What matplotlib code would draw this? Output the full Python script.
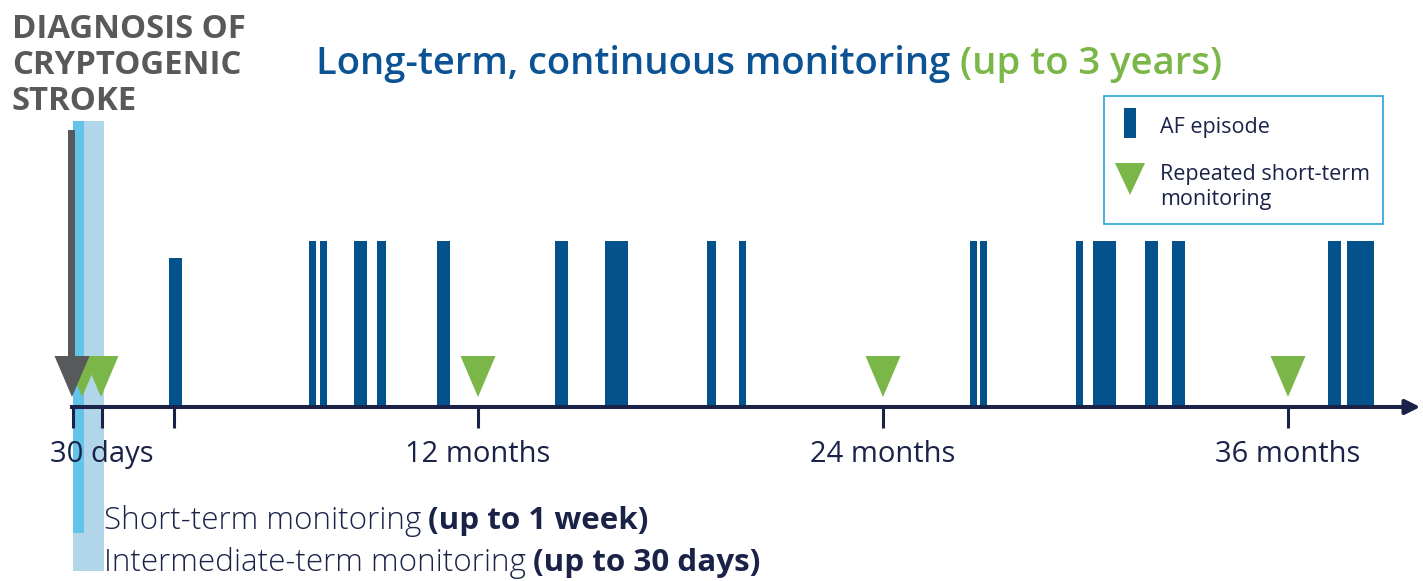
import matplotlib
matplotlib.use("agg")
import matplotlib.pyplot as plt
from matplotlib.patches import Rectangle, Polygon

# AF episodes, months after the stroke (start / end of each block)
af_start = [2.84, 6.99, 7.32, 8.33, 9.01, 10.79, 14.28, 15.76, 18.79, 19.73,
            26.58, 26.87, 29.72, 30.22, 31.76, 32.56, 37.19, 37.76]
af_end = [3.23, 7.20, 7.53, 8.71, 9.27, 11.17, 14.67, 16.44, 19.05, 19.94,
          26.79, 27.08, 29.93, 30.90, 32.15, 32.95, 37.57, 38.55]
af_height = [0.9, 1, 1, 1, 1, 1, 1, 1, 1, 1, 1, 1, 1, 1, 1, 1, 1, 1]

# repeated short-term monitoring (months)
rep_monitor = [0.27, 0.83, 12, 24, 36]

tick_pos = [0, 0.85, 3, 12, 24, 36]
tick_lab = ['', '30 days', '', '12 months', '24 months', '36 months']

short_term_end = 0.33   # up to 1 week
inter_term_end = 0.92   # up to 30 days

# colours
C_AF = '#03528c'
C_GREEN = '#7ab648'
C_GRAY = '#58595b'
C_SKY = '#63c3e9'
C_LIGHT = '#b1d6ea'
C_NAVY = '#1b2248'
C_TITLE = '#0b5394'

W, H = 1423, 581
PXM = 33.75      # pixels per month
X0 = 73          # pixel of month 0
AY = 407         # pixel row of time axis
UNIT = 166       # pixels per bar height unit

fig = plt.figure(figsize=(W / 100, H / 100), dpi=100)
ax = fig.add_axes([0, 0, 1, 1])
ax.set_xlim(-X0 / PXM, (W - X0) / PXM)
ax.set_ylim(-(H - AY) / UNIT, AY / UNIT)
for s in ['top', 'left', 'right']:
    ax.spines[s].set_visible(False)
ax.set_yticks([])

# monitoring bands
band_top = (AY - 121) / UNIT
ax.add_patch(Rectangle((0, -(571 - AY) / UNIT), inter_term_end, band_top + (571 - AY) / UNIT,
                       color=C_LIGHT, lw=0, zorder=1))
ax.add_patch(Rectangle((0, -(533 - AY) / UNIT), short_term_end, band_top + (533 - AY) / UNIT,
                       color=C_SKY, lw=0, zorder=1.1))

# AF episodes
widths = [e - s for s, e in zip(af_start, af_end)]
ax.bar(af_start, af_height, width=widths, align='edge', color=C_AF, lw=0, zorder=2)

# triangles
hw = 17.5 / PXM
tri_low = 10 / UNIT
tri_top = 51 / UNIT
for m in rep_monitor:
    ax.add_patch(Polygon([(m - hw, tri_top), (m + hw, tri_top), (m, tri_low)],
                         closed=True, color=C_GREEN, lw=0, zorder=3))

# diagnosis arrow
dx = -0.03
ax.add_patch(Rectangle((dx - 3.5 / PXM, tri_top - 0.01), 7 / PXM, (AY - 128) / UNIT - tri_top,
                       color=C_GRAY, lw=0, zorder=4))
ax.add_patch(Polygon([(dx - hw, tri_top), (dx + hw, tri_top), (dx, tri_low)],
                     closed=True, color=C_GRAY, lw=0, zorder=4))

# time axis
sp = ax.spines['bottom']
sp.set_position(('data', 0))
sp.set_bounds(-0.03, 39.6)
sp.set_linewidth(2.9)
sp.set_color(C_NAVY)
sp.set_zorder(6)
ax.xaxis.set_zorder(6)
ax.set_xticks(tick_pos, tick_lab)
ax.tick_params(axis='x', length=15, width=2.2, color=C_NAVY, pad=9,
               labelsize=21, labelcolor=C_NAVY)
for lab in ax.get_xticklabels():
    lab.set_family('Open Sans')
ax.annotate('', xy=(40.0, 0), xytext=(39.3, 0),
            arrowprops=dict(arrowstyle='-|>', color=C_NAVY, lw=2.9,
                            mutation_scale=22), zorder=6)

rend = fig.canvas.get_renderer()


def fx(p):
    return p / W


def fy(p):
    return 1 - p / H


def two_part(x, y, a, b, size, ca, cb, wa, wb, fam, gap):
    t1 = fig.text(fx(x), fy(y), a, fontsize=size, color=ca, weight=wa,
                  family=fam, va='center', ha='left')
    bb = t1.get_window_extent(rend)
    fig.text(bb.x1 / W + gap / W, fy(y), b, fontsize=size, color=cb, weight=wb,
             family=fam, va='center', ha='left')


# title
two_part(316, 64, 'Long-term, continuous monitoring', '(up to 3 years)', 27.5,
         C_TITLE, C_GREEN, 'semibold', 'semibold', 'Open Sans', 10)

fig.text(fx(12), fy(66), 'DIAGNOSIS OF\nCRYPTOGENIC\nSTROKE', fontsize=23.7,
         weight='bold', color=C_GRAY, family='Open Sans', va='center', ha='left',
         linespacing=1.12)

# bottom band labels
two_part(104, 521, 'Short-term monitoring', '(up to 1 week)', 22.6,
         C_NAVY, C_NAVY, 'light', 'bold', 'Open Sans', 7)
two_part(104, 563, 'Intermediate-term monitoring', '(up to 30 days)', 22.6,
         C_NAVY, C_NAVY, 'light', 'bold', 'Open Sans', 7)

# legend box
fig.add_artist(Rectangle((fx(1104), fy(224)), (1383 - 1104) / W, (224 - 96) / H,
                         transform=fig.transFigure, fill=False, ec='#29a3d8', lw=1.2))
fig.add_artist(Rectangle((fx(1124), fy(138)), 12 / W, 30 / H,
                         transform=fig.transFigure, color=C_AF, lw=0))
fig.add_artist(Polygon([(fx(1115), fy(163)), (fx(1145), fy(163)), (fx(1130), fy(195))],
                       closed=True, transform=fig.transFigure, color=C_GREEN, lw=0))
fig.text(fx(1160), fy(127), 'AF episode', fontsize=15.5, color=C_NAVY,
         family='Open Sans', va='center')
fig.text(fx(1160), fy(187), 'Repeated short-term\nmonitoring', fontsize=15.5,
         color=C_NAVY, family='Open Sans', va='center', linespacing=1.26)

fig.savefig('out.png', dpi=100)
